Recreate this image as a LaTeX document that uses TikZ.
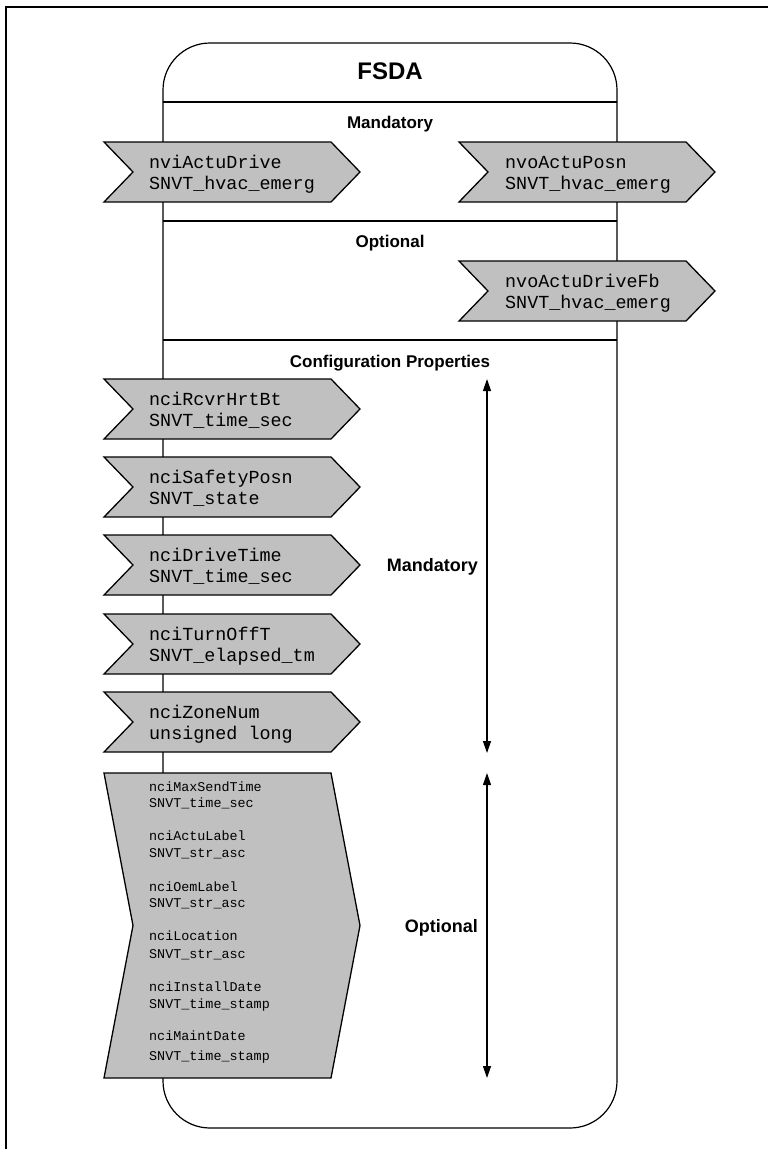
\documentclass[tikz,border=0pt]{standalone}
\usepackage{fontspec}
\setmainfont{Liberation Sans}
\setmonofont{Liberation Mono}
\usetikzlibrary{arrows.meta}
\definecolor{shapegray}{RGB}{192,192,192}
\tikzset{
  chevfill/.style={fill=shapegray, draw=black, line width=1.3pt, line join=miter},
  monotext/.style={font=\fontsize{18.4}{21}\selectfont\ttfamily, anchor=base west, inner sep=0pt},
  smallmono/.style={font=\fontsize{13.4}{16}\selectfont\ttfamily, anchor=base west, inner sep=0pt},
  headtext/.style={font=\fontsize{17}{20}\selectfont\bfseries, anchor=base, inner sep=0pt},
  sidetext/.style={font=\fontsize{18}{21}\selectfont\bfseries, anchor=base east, inner sep=0pt},
  rangearrow/.style={line width=1.2pt, {Triangle[length=12pt,width=8pt]}-{Triangle[length=12pt,width=8pt]}},
  frameline/.style={line width=1.2pt},
}
\newcommand\chevshape[2]{\filldraw[chevfill] (#1,#2) -- ++(227,0) -- ++(29,30) -- ++(-29,30) -- ++(-227,0) -- ++(29,-30) -- cycle;}
\begin{document}
\begin{tikzpicture}[x=1pt,y=-1pt]
\useasboundingbox (0,0) rectangle (768,1149);
% outer frame (top and left edges)
\draw[line width=2pt] (6,1149) -- (6,7) -- (768,7);
% rounded block
\draw[frameline, rounded corners=47pt] (163,43) rectangle (617,1128);
\draw[frameline] (163,102) -- (617,102);
\draw[frameline] (163,221) -- (617,221);
\draw[frameline] (163,340) -- (617,340);
% headings
\node[font=\fontsize{24}{28}\selectfont\bfseries, anchor=base, inner sep=0pt] (title) at (390,79) {FSDA};
\node[headtext] (hmand) at (390,128) {Mandatory};
\node[headtext] (hopt) at (390,247) {Optional};
\node[headtext] (hcfg) at (390,367) {Configuration Properties};
% network variables
\chevshape{104}{142}
\node[monotext] (a1) at (149,168) {nviActuDrive};
\node[monotext] (a2) at (149,189) {SNVT\_hvac\_emerg};
\chevshape{459}{142}
\node[monotext] (b1) at (505,168) {nvoActuPosn};
\node[monotext] (b2) at (505,189) {SNVT\_hvac\_emerg};
\chevshape{459}{261}
\node[monotext] (c1) at (505,287) {nvoActuDriveFb};
\node[monotext] (c2) at (505,308) {SNVT\_hvac\_emerg};
% configuration properties
\chevshape{104}{379}
\node[monotext] (d1) at (149,405) {nciRcvrHrtBt};
\node[monotext] (d2) at (149,426) {SNVT\_time\_sec};
\chevshape{104}{457}
\node[monotext] (e1) at (149,483) {nciSafetyPosn};
\node[monotext] (e2) at (149,504) {SNVT\_state};
\chevshape{104}{535}
\node[monotext] (f1) at (149,561) {nciDriveTime};
\node[monotext] (f2) at (149,582) {SNVT\_time\_sec};
\chevshape{104}{614}
\node[monotext] (g1) at (149,640) {nciTurnOffT};
\node[monotext] (g2) at (149,661) {SNVT\_elapsed\_tm};
\chevshape{104}{692}
\node[monotext] (h1) at (149,718) {nciZoneNum};
\node[monotext] (h2) at (149,739) {unsigned long};
% big optional shape
\filldraw[chevfill] (104,773) -- (331,773) -- (360,925.5) -- (331,1078) -- (104,1078) -- (133,925.5) -- cycle;
\node[smallmono] (o1) at (149,791) {nciMaxSendTime};
\node[smallmono] (o2) at (149,807) {SNVT\_time\_sec};
\node[smallmono] (o3) at (149,840) {nciActuLabel};
\node[smallmono] (o4) at (149,857) {SNVT\_str\_asc};
\node[smallmono] (o5) at (149,891) {nciOemLabel};
\node[smallmono] (o6) at (149,907) {SNVT\_str\_asc};
\node[smallmono] (o7) at (149,940) {nciLocation};
\node[smallmono] (o8) at (149,958) {SNVT\_str\_asc};
\node[smallmono] (o9) at (149,991) {nciInstallDate};
\node[smallmono] (o10) at (149,1008) {SNVT\_time\_stamp};
\node[smallmono] (o11) at (149,1040) {nciMaintDate};
\node[smallmono] (o12) at (149,1060) {SNVT\_time\_stamp};
% range arrows
\coordinate (mtop) at (487,379);
\coordinate (mbot) at (487,753);
\coordinate (otop) at (487,773);
\coordinate (obot) at (487,1078);
\draw[rangearrow] (mtop) -- (mbot);
\draw[rangearrow] (otop) -- (obot);
\node[sidetext] (lmand) at (478,571) {Mandatory};
\node[sidetext] (lopt) at (478,932) {Optional};
\end{tikzpicture}
\end{document}
